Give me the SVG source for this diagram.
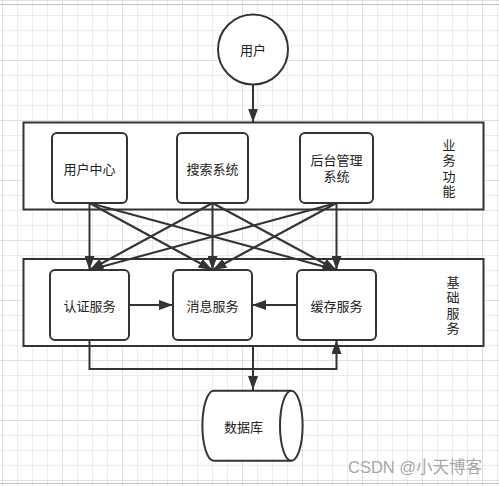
<svg xmlns="http://www.w3.org/2000/svg" width="499" height="486" viewBox="0 0 499 486">
<defs>
<pattern id="gMinor" width="15" height="15" patternUnits="userSpaceOnUse" x="2" y="0">
<path d="M0.5 0V15M0 0.5H15" fill="none" stroke="#ececec" stroke-width="1"/>
</pattern>
<pattern id="gMajor" width="60" height="60" patternUnits="userSpaceOnUse" x="2" y="0">
<path d="M0.5 0V60M0 0.5H60" fill="none" stroke="#e0e0e0" stroke-width="1"/>
</pattern>
<marker id="arr" markerUnits="userSpaceOnUse" markerWidth="14" markerHeight="10" refX="14" refY="5" orient="auto" viewBox="0 0 14 10">
<path d="M0,0 L14,5 L0,10 Z" fill="#333333"/>
</marker>
<style>
.box{fill:#ffffff;stroke:#333333;stroke-width:2}
.cont{fill:#ffffff;stroke:#333333;stroke-width:2}
.lbl{font-family:"Noto Sans CJK SC","Liberation Sans",sans-serif;font-size:13px;fill:#222222;text-anchor:middle;dominant-baseline:central}
.lbl2{font-family:"Liberation Sans","Noto Sans CJK SC",sans-serif;font-size:13px;fill:#222222;text-anchor:middle}
.vlbl{font-family:"Noto Sans CJK SC","Liberation Sans",sans-serif;font-size:13px;fill:#222222;text-anchor:middle;writing-mode:vertical-rl;letter-spacing:2.5px}
.edge{fill:none;stroke:#333333;stroke-width:2;marker-end:url(#arr)}
.line{fill:none;stroke:#333333;stroke-width:2}
</style>
</defs>
<rect x="0" y="0" width="499" height="486" fill="#ffffff"/>
<rect x="0" y="0" width="499" height="486" fill="url(#gMinor)"/>
<rect x="0" y="0" width="499" height="486" fill="url(#gMajor)"/>
<line x1="0" y1="4.5" x2="499" y2="4.5" stroke="#c4c4c4" stroke-width="1"/>
<line x1="0" y1="483.5" x2="499" y2="483.5" stroke="#c4c4c4" stroke-width="1"/>

<g id="user">
<circle cx="253" cy="49.5" r="35" class="box"/>
<text x="253" y="49.5" class="lbl">用户</text>
</g>

<g id="business">
<rect x="23.5" y="122.5" width="460" height="87" class="cont"/>
<text x="449" y="169.5" class="vlbl">业务功能</text>
</g>

<g id="base">
<rect x="23.5" y="259" width="460" height="87" class="cont"/>
<text x="453" y="306.5" class="vlbl">基础服务</text>
</g>

<g id="usercenter">
<rect x="52" y="133" width="75" height="70" rx="5" class="box"/>
<text x="89.5" y="168" class="lbl">用户中心</text>
</g>
<g id="search">
<rect x="177" y="133" width="71" height="70" rx="5" class="box"/>
<text x="212.5" y="168" class="lbl">搜索系统</text>
</g>
<g id="admin">
<rect x="300" y="133" width="73" height="70" rx="5" class="box"/>
<text class="lbl2"><tspan x="336.5" y="164.5">后台管理</tspan><tspan x="336.5" y="181">系统</tspan></text>
</g>

<g id="auth">
<rect x="50" y="270" width="79" height="70" rx="5" class="box"/>
<text x="89.5" y="305" class="lbl">认证服务</text>
</g>
<g id="message">
<rect x="173" y="270" width="79" height="70" rx="5" class="box"/>
<text x="212.5" y="305" class="lbl">消息服务</text>
</g>
<g id="cache">
<rect x="297" y="270" width="79" height="70" rx="5" class="box"/>
<text x="336.5" y="305" class="lbl">缓存服务</text>
</g>

<g id="database">
<path d="M213.7,390.7 A11.3,35 0 0 0 213.7,460.7 L291.3,460.7 A11.3,35 0 0 0 291.3,390.7 Z" class="box"/>
<path d="M291.3,390.7 A11.3,35 0 0 0 291.3,460.7" class="line"/>
<text x="243.5" y="426" class="lbl">数据库</text>
</g>

<g id="connectors">
<line x1="253" y1="84.5" x2="253" y2="122.5" class="edge"/>
<line x1="89.5" y1="203" x2="89.5" y2="270" class="edge"/>
<line x1="89.5" y1="203" x2="212.5" y2="270" class="edge"/>
<line x1="89.5" y1="203" x2="336.5" y2="270" class="edge"/>
<line x1="212.5" y1="203" x2="89.5" y2="270" class="edge"/>
<line x1="212.5" y1="203" x2="212.5" y2="270" class="edge"/>
<line x1="212.5" y1="203" x2="336.5" y2="270" class="edge"/>
<line x1="336.5" y1="203" x2="89.5" y2="270" class="edge"/>
<line x1="336.5" y1="203" x2="212.5" y2="270" class="edge"/>
<line x1="336.5" y1="203" x2="336.5" y2="270" class="edge"/>
<line x1="129" y1="305" x2="173" y2="305" class="edge"/>
<line x1="297" y1="305" x2="252" y2="305" class="edge"/>
<path d="M89.5,340 V369 H336.5 V340" class="edge"/>
<line x1="253" y1="346" x2="253" y2="390" class="edge"/>
</g>

<text x="348" y="473" font-family="Liberation Sans,'Noto Sans CJK SC',sans-serif" font-size="16.5" fill="#a6a6a6">CSDN @小天博客</text>
</svg>
